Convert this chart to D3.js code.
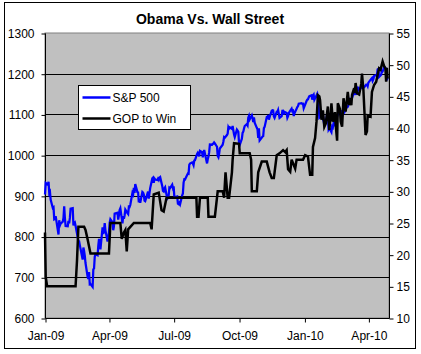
<!DOCTYPE html>
<html>
<head>
<meta charset="utf-8">
<script src="https://cdn.jsdelivr.net/npm/d3@7"></script>
<style>
  body { margin: 0; background: #fff; }
  svg text { font-family: "Liberation Sans", Arial, sans-serif; fill: #000; }
</style>
</head>
<body>
<div id="chart"></div>
<script>
// chart title and legend labels
var title = "Obama Vs. Wall Street";
var seriesNames = ["S&P 500", "GOP to Win"];

// axis ticks
var leftTicks = [600, 700, 800, 900, 1000, 1100, 1200, 1300];
var rightTicks = [10, 15, 20, 25, 30, 35, 40, 45, 50, 55];

// S&P 500 closes (left axis)
var spxDates = [
  "2009-01-01","2009-01-02","2009-01-05","2009-01-06","2009-01-07","2009-01-08","2009-01-09","2009-01-12","2009-01-13","2009-01-14","2009-01-15","2009-01-16","2009-01-20","2009-01-21","2009-01-22","2009-01-23","2009-01-26","2009-01-27","2009-01-28","2009-01-29","2009-01-30",
  "2009-02-02","2009-02-03","2009-02-04","2009-02-05","2009-02-06","2009-02-09","2009-02-10","2009-02-11","2009-02-12","2009-02-13","2009-02-17","2009-02-18","2009-02-19","2009-02-20","2009-02-23","2009-02-24","2009-02-25","2009-02-26","2009-02-27",
  "2009-03-02","2009-03-03","2009-03-04","2009-03-05","2009-03-06","2009-03-09","2009-03-10","2009-03-11","2009-03-12","2009-03-13","2009-03-16","2009-03-17","2009-03-18","2009-03-19","2009-03-20","2009-03-23","2009-03-24","2009-03-25","2009-03-26","2009-03-27","2009-03-30","2009-03-31",
  "2009-04-01","2009-04-02","2009-04-03","2009-04-06","2009-04-07","2009-04-08","2009-04-09","2009-04-13","2009-04-14","2009-04-15","2009-04-16","2009-04-17","2009-04-20","2009-04-21","2009-04-22","2009-04-23","2009-04-24","2009-04-27","2009-04-28","2009-04-29","2009-04-30",
  "2009-05-01","2009-05-04","2009-05-05","2009-05-06","2009-05-07","2009-05-08","2009-05-11","2009-05-12","2009-05-13","2009-05-14","2009-05-15","2009-05-18","2009-05-19","2009-05-20","2009-05-21","2009-05-22","2009-05-26","2009-05-27","2009-05-28","2009-05-29",
  "2009-06-01","2009-06-02","2009-06-03","2009-06-04","2009-06-05","2009-06-08","2009-06-09","2009-06-10","2009-06-11","2009-06-12","2009-06-15","2009-06-16","2009-06-17","2009-06-18","2009-06-19","2009-06-22","2009-06-23","2009-06-24","2009-06-25","2009-06-26","2009-06-29","2009-06-30",
  "2009-07-01","2009-07-02","2009-07-06","2009-07-07","2009-07-08","2009-07-09","2009-07-10","2009-07-13","2009-07-14","2009-07-15","2009-07-16","2009-07-17","2009-07-20","2009-07-21","2009-07-22","2009-07-23","2009-07-24","2009-07-27","2009-07-28","2009-07-29","2009-07-30","2009-07-31",
  "2009-08-03","2009-08-04","2009-08-05","2009-08-06","2009-08-07","2009-08-10","2009-08-11","2009-08-12","2009-08-13","2009-08-14","2009-08-17","2009-08-18","2009-08-19","2009-08-20","2009-08-21","2009-08-24","2009-08-25","2009-08-26","2009-08-27","2009-08-28","2009-08-31",
  "2009-09-01","2009-09-02","2009-09-03","2009-09-04","2009-09-08","2009-09-09","2009-09-10","2009-09-11","2009-09-14","2009-09-15","2009-09-16","2009-09-17","2009-09-18","2009-09-21","2009-09-22","2009-09-23","2009-09-24","2009-09-25","2009-09-28","2009-09-29","2009-09-30",
  "2009-10-01","2009-10-02","2009-10-05","2009-10-06","2009-10-07","2009-10-08","2009-10-09","2009-10-12","2009-10-13","2009-10-14","2009-10-15","2009-10-16","2009-10-19","2009-10-20","2009-10-21","2009-10-22","2009-10-23","2009-10-26","2009-10-27","2009-10-28","2009-10-29","2009-10-30",
  "2009-11-02","2009-11-03","2009-11-04","2009-11-05","2009-11-06","2009-11-09","2009-11-10","2009-11-11","2009-11-12","2009-11-13","2009-11-16","2009-11-17","2009-11-18","2009-11-19","2009-11-20","2009-11-23","2009-11-24","2009-11-25","2009-11-27","2009-11-30",
  "2009-12-01","2009-12-02","2009-12-03","2009-12-04","2009-12-07","2009-12-08","2009-12-09","2009-12-10","2009-12-11","2009-12-14","2009-12-15","2009-12-16","2009-12-17","2009-12-18","2009-12-21","2009-12-22","2009-12-23","2009-12-24","2009-12-28","2009-12-29","2009-12-30","2009-12-31",
  "2010-01-04","2010-01-05","2010-01-06","2010-01-07","2010-01-08","2010-01-11","2010-01-12","2010-01-13","2010-01-14","2010-01-15","2010-01-19","2010-01-20","2010-01-21","2010-01-22","2010-01-25","2010-01-26","2010-01-27","2010-01-28","2010-01-29",
  "2010-02-01","2010-02-02","2010-02-03","2010-02-04","2010-02-05","2010-02-08","2010-02-09","2010-02-10","2010-02-11","2010-02-12","2010-02-16","2010-02-17","2010-02-18","2010-02-19","2010-02-22","2010-02-23","2010-02-24","2010-02-25","2010-02-26",
  "2010-03-01","2010-03-02","2010-03-03","2010-03-04","2010-03-05","2010-03-08","2010-03-09","2010-03-10","2010-03-11","2010-03-12","2010-03-15","2010-03-16","2010-03-17","2010-03-18","2010-03-19","2010-03-22","2010-03-23","2010-03-24","2010-03-25","2010-03-26","2010-03-29","2010-03-30","2010-03-31",
  "2010-04-01","2010-04-05","2010-04-06","2010-04-07","2010-04-08","2010-04-09","2010-04-12","2010-04-13","2010-04-14","2010-04-15","2010-04-16","2010-04-19","2010-04-20","2010-04-21","2010-04-22","2010-04-23","2010-04-26","2010-04-27","2010-04-28"
];
var spxValues = [
  903.3,931.8,927.5,934.7,906.6,909.7,890.4,870.3,871.8,842.6,843.7,850.1,805.2,840.2,827.5,832.0,836.6,845.7,874.1,845.1,825.9,
  825.4,838.5,832.2,845.9,868.6,869.9,827.2,833.7,835.2,826.8,789.2,788.4,778.9,770.1,743.3,773.1,764.9,752.8,735.1,
  700.8,696.3,712.9,682.6,683.4,676.5,719.6,721.4,750.7,756.6,753.9,778.1,794.4,784.0,768.5,822.9,806.1,813.9,832.9,815.9,787.5,797.9,
  811.1,834.4,842.5,835.5,815.6,825.2,856.6,858.7,841.5,852.1,865.3,869.6,832.4,850.1,843.6,851.9,866.2,857.5,855.2,873.6,872.8,
  877.5,907.2,903.8,919.5,907.4,929.2,909.2,908.4,883.9,893.1,882.9,909.7,908.1,903.5,888.3,887.0,910.3,893.1,906.8,919.1,
  942.9,944.7,931.8,942.5,940.1,939.1,942.4,939.2,944.9,946.2,923.7,912.0,910.7,918.4,921.2,893.0,895.1,900.9,920.3,918.9,927.2,919.3,
  923.3,896.4,898.7,881.0,879.6,882.7,879.1,901.1,905.8,932.7,940.7,940.4,951.1,954.6,954.1,976.3,979.3,982.2,979.6,975.2,986.8,987.5,
  1002.6,1005.7,1002.7,997.1,1010.5,1007.1,994.4,1005.8,1012.7,1004.1,979.7,989.7,996.5,1007.4,1026.1,1025.6,1028.0,1028.1,1031.0,1028.9,1020.6,
  998.0,994.8,1003.2,1016.4,1025.4,1033.4,1044.1,1042.7,1049.3,1052.6,1068.8,1065.5,1068.3,1064.7,1071.7,1060.9,1050.8,1044.4,1063.0,1060.6,1057.1,
  1029.9,1025.2,1040.5,1054.7,1057.6,1065.5,1071.5,1076.2,1073.2,1092.0,1096.6,1087.7,1097.9,1091.1,1081.4,1092.9,1079.6,1067.0,1063.4,1042.6,1066.1,1036.2,
  1042.9,1045.4,1046.5,1066.6,1069.3,1093.1,1093.0,1098.5,1087.2,1093.5,1109.3,1110.3,1109.8,1094.9,1091.4,1106.2,1105.7,1110.6,1091.5,1095.6,
  1108.9,1109.2,1099.9,1106.0,1103.3,1091.9,1096.0,1102.4,1106.4,1114.1,1107.9,1109.2,1096.1,1102.5,1114.1,1118.0,1120.6,1126.5,1127.8,1126.2,1126.4,1115.1,
  1133.0,1136.5,1137.1,1141.7,1145.0,1147.0,1136.2,1145.7,1148.5,1136.0,1150.2,1138.0,1116.5,1091.8,1096.8,1092.2,1097.5,1084.5,1073.9,
  1089.2,1103.3,1097.3,1063.1,1066.2,1056.7,1070.5,1068.1,1078.5,1075.5,1094.9,1099.5,1106.8,1109.2,1108.0,1094.6,1105.2,1102.9,1104.5,
  1115.7,1118.3,1118.8,1123.0,1138.7,1138.5,1140.5,1145.6,1150.2,1150.0,1150.5,1159.5,1166.2,1165.8,1159.9,1165.8,1174.2,1167.7,1165.7,1166.6,1173.2,1173.3,1169.4,
  1178.1,1187.4,1189.4,1182.5,1186.4,1194.4,1196.5,1197.3,1210.7,1211.7,1192.1,1197.5,1207.2,1205.9,1208.7,1217.3,1212.1,1183.7,1191.4
];

// GOP to Win price (right axis)
var gopDates = [
  "2009-01-01","2009-01-02","2009-01-04","2009-02-13","2009-02-15","2009-02-17","2009-02-25","2009-02-27","2009-03-02","2009-03-06",
  "2009-04-01","2009-04-03","2009-04-17","2009-04-19","2009-04-22","2009-04-24","2009-04-26","2009-04-28","2009-05-06","2009-05-29","2009-05-31",
  "2009-06-03","2009-06-10","2009-06-14","2009-06-17","2009-06-21","2009-08-02","2009-08-03","2009-08-05","2009-08-07","2009-08-18","2009-08-19","2009-08-28","2009-08-31",
  "2009-09-01","2009-09-08","2009-09-10","2009-09-12","2009-09-15","2009-09-17","2009-09-18","2009-09-21","2009-09-22","2009-09-24",
  "2009-10-01","2009-10-02","2009-10-16","2009-10-18","2009-10-19","2009-10-26","2009-10-28","2009-11-02","2009-11-09","2009-11-13","2009-11-16","2009-11-19","2009-11-23","2009-11-27",
  "2009-12-02","2009-12-05","2009-12-07","2009-12-09","2009-12-12","2009-12-14","2009-12-19","2009-12-21","2009-12-30",
  "2010-01-02","2010-01-06","2010-01-09","2010-01-12","2010-01-13","2010-01-16","2010-01-18","2010-01-20","2010-01-22","2010-01-23","2010-01-25","2010-01-27","2010-01-29","2010-01-31",
  "2010-02-03","2010-02-05","2010-02-07","2010-02-08","2010-02-10","2010-02-13","2010-02-14","2010-02-16","2010-02-17","2010-02-20","2010-02-21","2010-02-23","2010-02-25","2010-02-26","2010-02-28",
  "2010-03-03","2010-03-05","2010-03-06","2010-03-08","2010-03-09","2010-03-12","2010-03-13","2010-03-14","2010-03-16","2010-03-19","2010-03-22","2010-03-23","2010-03-25","2010-03-28","2010-03-30","2010-03-31",
  "2010-04-04","2010-04-06","2010-04-09","2010-04-12","2010-04-14","2010-04-16","2010-04-18","2010-04-21","2010-04-23","2010-04-25","2010-04-26","2010-04-27","2010-04-28"
];
var gopValues = [
  23.5,16.5,15,15,19,24.4,24.4,23.9,22.4,20.2,
  20.2,25,25,22.5,23.5,23.9,20.5,24,25,25,24,
  29.5,29.8,27,26.8,29,29,26,26,29,29,26,26,29,
  30,30,29,33,29,29,30,33,35,37.6,
  37.5,36,36,35,30,30,33,34.7,34.7,33,32.1,32.1,35.7,36,
  36.5,36.2,36.5,33.5,33.1,35,33.6,35,35,
  35.7,35.5,32.6,32.6,37,38.4,41,45.2,45,44.4,41.3,42.8,40.2,40.7,
  43.4,39.7,42,43.9,41,42.5,40.5,38,43.9,43,41,40.2,44.7,44,42.6,
  45.7,43.6,44.7,43.6,45.2,46.3,45.5,47.1,45.5,45.3,47,48.6,46,38.9,39.5,42,
  41.8,45.7,46.8,47.3,48.4,49.4,49.2,50.5,49.8,49.4,47.3,49.5,47.8
];

var W = 421, H = 354;
var plotL = 45, plotR = 389, plotT = 33, plotB = 318;
var parse = d3.timeParse("%Y-%m-%d");

var svg = d3.select("#chart").append("svg")
    .attr("width", W)
    .attr("height", H);

// outer chart border
svg.append("rect")
    .attr("x", 4.5).attr("y", 2.5)
    .attr("width", 411).attr("height", 346)
    .attr("fill", "#fff")
    .attr("stroke", "#000");

var x = d3.scaleTime()
    .domain([parse("2009-01-01"), parse("2010-04-30")])
    .range([plotL, plotR]);
var yL = d3.scaleLinear().domain([600, 1300]).range([plotB, plotT]);
var yR = d3.scaleLinear().domain([10, 55]).range([plotB, plotT]);

// plot area
svg.append("rect")
    .attr("x", plotL).attr("y", plotT)
    .attr("width", plotR - plotL).attr("height", plotB - plotT)
    .attr("fill", "#c0c0c0")
    .attr("stroke", "#808080");

// gridlines on the left axis ticks
svg.append("g").selectAll("line")
    .data(leftTicks.filter(function (d) { return d > 600 && d < 1300; }))
    .enter().append("line")
    .attr("x1", plotL).attr("x2", plotR)
    .attr("y1", function (d) { return Math.round(yL(d)) + 0.5; })
    .attr("y2", function (d) { return Math.round(yL(d)) + 0.5; })
    .attr("stroke", "#000");

// axes
var axL = svg.append("g")
    .attr("transform", "translate(" + (plotL + 0.5) + ",0.5)")
    .call(d3.axisLeft(yL).tickValues(leftTicks).tickSize(4).tickPadding(7).tickFormat(d3.format("d")));
var axR = svg.append("g")
    .attr("transform", "translate(" + (plotR + 0.5) + ",0.5)")
    .call(d3.axisRight(yR).tickValues(rightTicks).tickSize(4).tickPadding(3));
var axB = svg.append("g")
    .attr("transform", "translate(0.5," + (plotB + 0.5) + ")")
    .call(d3.axisBottom(x).ticks(d3.timeMonth.every(3)).tickSize(4).tickPadding(9)
        .tickFormat(d3.timeFormat("%b-%y")));

[axL, axR, axB].forEach(function (g) {
    g.select(".domain").attr("stroke", "#000");
    g.selectAll(".tick line").attr("stroke", "#000");
    g.selectAll("text")
        .style("font-family", '"Liberation Sans", Arial, sans-serif')
        .style("font-size", "12px")
        .attr("fill", "#000");
});
axB.select(".domain").attr("d", "M" + plotL + ",0H" + plotR);
axL.select(".domain").attr("d", "M0," + plotT + "V" + plotB);
axR.select(".domain").attr("d", "M0," + plotT + "V" + plotB);

// series: S&P first, the secondary-axis series on top
var spx = spxDates.map(function (d, i) { return { date: parse(d), value: spxValues[i] }; });
var gop = gopDates.map(function (d, i) { return { date: parse(d), value: gopValues[i] }; });

svg.append("path")
    .datum(spx)
    .attr("fill", "none")
    .attr("stroke", "#0000ff")
    .attr("stroke-width", 2.25)
    .attr("d", d3.line()
        .x(function (d) { return x(d.date); })
        .y(function (d) { return yL(d.value); }));

svg.append("path")
    .datum(gop)
    .attr("fill", "none")
    .attr("stroke", "#000")
    .attr("stroke-width", 2.5)
    .attr("d", d3.line()
        .x(function (d) { return x(d.date); })
        .y(function (d) { return yR(d.value); }));

// title
svg.append("text")
    .attr("x", 210).attr("y", 24)
    .attr("text-anchor", "middle")
    .style("font-size", "14px")
    .style("font-weight", "bold")
    .text(title);

// legend
var legend = svg.append("g").attr("transform", "translate(78.5,85.5)");
legend.append("rect")
    .attr("width", 112).attr("height", 44)
    .attr("fill", "#fff")
    .attr("stroke", "#000");
var colors = ["#0000ff", "#000"];
seriesNames.forEach(function (name, i) {
    legend.append("line")
        .attr("x1", 4).attr("x2", 32)
        .attr("y1", 12 + i * 21).attr("y2", 12 + i * 21)
        .attr("stroke", colors[i])
        .attr("stroke-width", 2.5);
    legend.append("text")
        .attr("x", 34).attr("y", 16 + i * 21)
        .style("font-size", "12px")
        .text(name);
});
</script>
</body>
</html>
